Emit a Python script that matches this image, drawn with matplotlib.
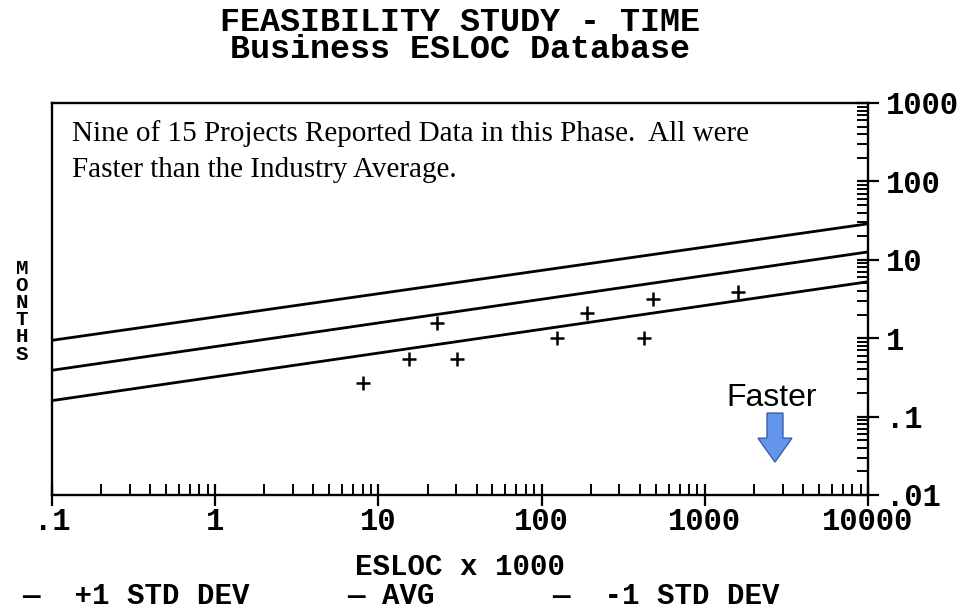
import matplotlib
matplotlib.use("Agg")
import matplotlib.pyplot as plt
from matplotlib.patches import FancyArrow
from matplotlib.ticker import NullFormatter

# projects that reported data in this phase (ESLOC x 1000, months)
esloc = [8.1, 15.5, 22.7, 30.5, 125, 189, 423, 479, 1590]
months = [0.27, 0.54, 1.55, 0.54, 1.0, 2.08, 1.0, 3.14, 3.85]

# industry trend lines, read at both ends of the x axis
line_x = [0.1, 10000]
plus_std = [0.94, 28.8]
avg = [0.39, 12.6]
minus_std = [0.16, 5.25]

x_ticks = [0.1, 1, 10, 100, 1000, 10000]
x_labels = ['.1', '1', '10', '100', '1000', '10000']
y_ticks = [0.01, 0.1, 1, 10, 100, 1000]
y_labels = ['.01', '.1', '1', '10', '100', '1000']

legend_items = ['—  +1 STD DEV', '— AVG', '—  -1 STD DEV']

W, H = 977, 610
mono = dict(family='Liberation Mono', weight='bold')

fig = plt.figure(figsize=(W / 100, H / 100), dpi=100)
ax = fig.add_axes([52 / W, 1 - 495 / H, 816 / W, 392 / H])
ax.set_xscale('log')
ax.set_yscale('log')

for y in (plus_std, avg, minus_std):
    ax.plot(line_x, y, color='black', lw=2, solid_capstyle='butt')
ax.plot(esloc, months, '+', color='black', ms=10, mew=1.8)

ax.set_xlim(0.1, 10000)
ax.set_ylim(0.01, 1000)

ax.yaxis.tick_right()
ax.set_xticks(x_ticks)
ax.set_xticklabels(x_labels, fontsize=22, **mono)
ax.set_yticks(y_ticks)
ax.set_yticklabels(y_labels, fontsize=22, **mono)
ax.xaxis.set_minor_formatter(NullFormatter())
ax.yaxis.set_minor_formatter(NullFormatter())
ax.tick_params(which='major', direction='inout', length=16, width=1.6)
ax.tick_params(axis='x', which='major', pad=1)
ax.tick_params(axis='y', which='major', pad=5)
ax.tick_params(which='minor', direction='in', length=8, width=1.4)
for s in ax.spines.values():
    s.set_linewidth(1.7)

ax.text(0.0245, 0.811,
        "Nine of 15 Projects Reported Data in this Phase.  All were\n"
        "Faster than the Industry Average.",
        transform=ax.transAxes, family='Liberation Serif', fontsize=21,
        va='baseline', ha='left', linespacing=1.5)

ax.text(0.882, 0.227, "Faster", transform=ax.transAxes,
        family='Liberation Sans', fontsize=23, ha='center', va='baseline')
ax.add_patch(FancyArrow(0.886, 0.209, 0, -0.125, width=0.0196,
                        head_width=0.0417, head_length=0.061,
                        length_includes_head=True, transform=ax.transAxes,
                        fc='#6495ED', ec='#3A5FA8', lw=1))

# titles and labels
fig.text(460 / W, 1 - 58 / H,
         "FEASIBILITY STUDY - TIME\nBusiness ESLOC Database",
         ha='center', va='baseline', fontsize=24, linespacing=0.85, **mono)
fig.text(22 / W, 299 / H, "M\nO\nN\nT\nH\nS", ha='center', va='center',
         fontsize=15, linespacing=0.88, **mono)
fig.text(460 / W, 1 - 575 / H, "ESLOC x 1000", ha='center', va='baseline',
         fontsize=21, **mono)
for x0, item in zip([22, 347, 552], legend_items):
    fig.text(x0 / W, 1 - 604 / H, item, ha='left', va='baseline',
             fontsize=21, **mono)

fig.savefig('out.png', dpi=100)
